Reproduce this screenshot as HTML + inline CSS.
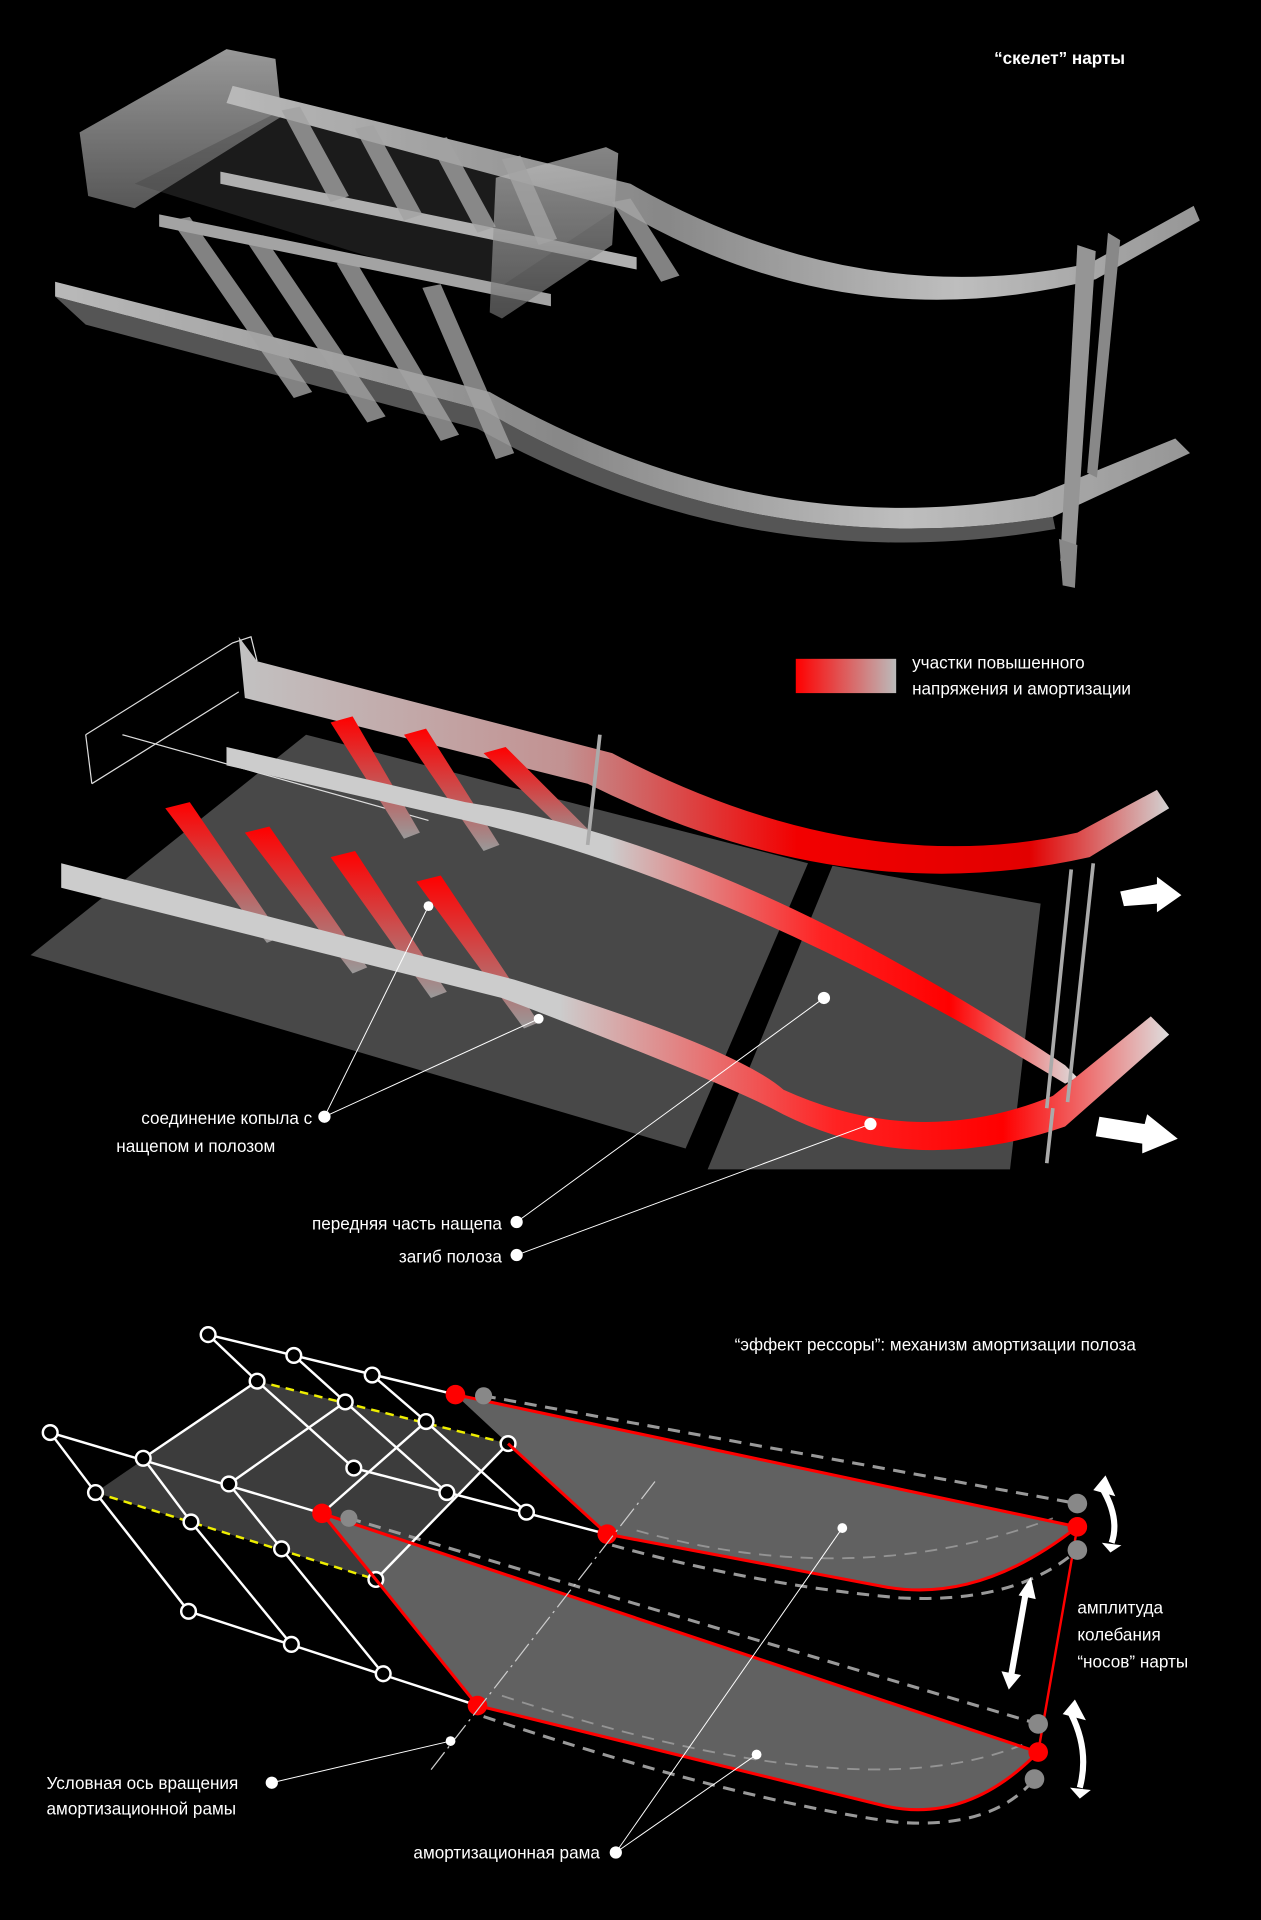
<!DOCTYPE html>
<html><head><meta charset="utf-8"><style>
html,body{margin:0;padding:0;background:#000;}
svg{display:block}
text{font-family:"Liberation Sans",sans-serif;fill:#fff;}
</style></head><body>
<svg width="1261" height="1920" viewBox="0 0 1030 1568" xmlns="http://www.w3.org/2000/svg">
<defs>
<linearGradient id="wg" x1="0" y1="0" x2="1" y2="0">
<stop offset="0" stop-color="#e8e8e8"/><stop offset="0.45" stop-color="#aaa"/><stop offset="0.75" stop-color="#eee"/><stop offset="1" stop-color="#bbb"/></linearGradient>
<linearGradient id="wg2" x1="0" y1="0" x2="0" y2="1">
<stop offset="0" stop-color="#eee"/><stop offset="1" stop-color="#888"/></linearGradient>
<linearGradient id="leg" x1="0" y1="0" x2="1" y2="0">
<stop offset="0" stop-color="#f00"/><stop offset="1" stop-color="#bbb"/></linearGradient>
<linearGradient id="r1" x1="0" y1="0" x2="1" y2="0">
<stop offset="0" stop-color="#ccc"/><stop offset="0.35" stop-color="#c99"/><stop offset="0.6" stop-color="#f00"/><stop offset="0.85" stop-color="#e00"/><stop offset="1" stop-color="#ddd"/></linearGradient>
<linearGradient id="r2" x1="0" y1="0" x2="1" y2="0">
<stop offset="0" stop-color="#ccc"/><stop offset="0.45" stop-color="#ccc"/><stop offset="0.7" stop-color="#f22"/><stop offset="0.85" stop-color="#f00"/><stop offset="1" stop-color="#ddd"/></linearGradient>
<linearGradient id="lr" x1="0" y1="0" x2="0" y2="1">
<stop offset="0" stop-color="#f00"/><stop offset="1" stop-color="#999"/></linearGradient>
</defs>
<rect width="1030" height="1568" fill="#000"/>

<!-- ===== TOP SLED ===== -->
<text x="812" y="52" font-size="14" font-weight="bold">“скелет” нарты</text>
<g opacity="0.8">
<polygon points="65,108 185,40 225,48 230,95 110,170 72,160" fill="url(#wg2)" opacity="0.8"/>
<polygon points="110,150 230,90 520,160 400,240" fill="#555" opacity="0.4"/>
<!-- upper rail -->
<path d="M190,70 L515,150 Q700,255 890,215 L975,168 L980,180 L895,228 Q690,280 505,170 L185,84 Z" fill="url(#wg)"/>
<!-- lower runner -->
<path d="M45,230 L400,320 Q620,445 845,405 L960,358 L972,370 L860,422 Q615,462 395,335 L45,242 Z" fill="url(#wg)"/>
<path d="M45,242 L395,335 Q615,462 860,422 L862,432 Q615,475 390,350 L70,265 Z" fill="#999" opacity="0.7"/>
<path d="M180,140 L520,210 L520,220 L180,150 Z" fill="#ddd"/>
<path d="M130,175 L450,240 L450,250 L130,185 Z" fill="#ccc"/>
<polygon points="405,145 495,120 505,125 500,200 410,260 400,255" fill="url(#wg2)" opacity="0.7"/>
<g fill="#ccc" opacity="0.8">
<polygon points="140,180 155,177 255,320 240,325"/>
<polygon points="200,195 215,192 315,340 300,345"/>
<polygon points="275,215 290,212 375,355 360,360"/>
<polygon points="345,235 360,232 420,370 405,375"/>
<polygon points="230,90 245,87 285,160 270,165"/>
<polygon points="290,105 305,102 345,175 330,180"/>
<polygon points="350,115 365,112 405,185 390,190"/>
<polygon points="410,130 425,127 455,195 440,200"/>
<polygon points="500,165 515,162 555,225 540,230"/>
</g>
<polygon points="880,200 895,205 878,460 866,458" fill="#bbb"/>
<polygon points="905,190 915,196 896,390 888,386" fill="#aaa"/>
<polygon points="865,440 880,445 878,480 868,478" fill="#aaa"/>
</g>

<!-- ===== MIDDLE ===== -->
<polygon points="25,780 250,600 660,705 560,938" fill="#484848"/>
<polygon points="680,707 850,738 825,955 578,955" fill="#484848"/>
<rect x="650" y="538" width="82" height="28" fill="url(#leg)"/>
<text x="745" y="546" font-size="14">участки повышенного</text>
<text x="745" y="567" font-size="14">напряжения и амортизации</text>
<g fill="none" stroke="#ddd" stroke-width="1">
<polyline points="70,600 190,525 205,520 210,540"/>
<polyline points="75,640 195,565"/>
<line x1="70" y1="600" x2="75" y2="640"/>
<line x1="100" y1="600" x2="350" y2="670"/>
</g>
<path d="M195,520 L210,540 L500,615 Q700,720 880,680 L945,645 L955,660 L890,700 Q690,745 480,640 L200,570 Z" fill="url(#r1)" opacity="0.95"/>
<g fill="url(#lr)">
<polygon points="135,660 155,655 230,765 218,770"/>
<polygon points="200,680 220,675 300,790 288,795"/>
<polygon points="270,700 290,695 365,810 352,815"/>
<polygon points="340,720 360,715 440,835 428,840"/>
<polygon points="270,590 288,585 343,680 330,685"/>
<polygon points="330,600 348,595 408,690 395,695"/>
<polygon points="395,615 413,610 483,680 470,688"/>
</g>
<path d="M185,610 L380,655 Q600,690 870,870 L880,880 L870,885 Q600,720 380,670 L185,625 Z" fill="url(#r2)"/>
<path d="M50,705 L420,800 Q600,855 640,890 Q750,940 860,895 L940,830 L955,845 L870,920 Q740,965 630,905 Q580,880 410,815 L50,725 Z" fill="url(#r2)"/>
<g fill="none" stroke="#aaa" stroke-width="3">
<line x1="875" y1="710" x2="855" y2="905"/><line x1="893" y1="705" x2="872" y2="900"/>
<line x1="860" y1="905" x2="855" y2="950"/>
<line x1="490" y1="600" x2="480" y2="690"/>
</g>
<polygon points="915,728 945,722 945,716 965,731 945,745 945,738 918,740" fill="#fff"/>
<polygon points="898,912 935,918 937,910 962,930 933,942 933,934 895,928" fill="#fff"/>
<g stroke="#fff" stroke-width="0.8">
<line x1="265" y1="912" x2="350" y2="740"/><line x1="265" y1="912" x2="440" y2="832"/>
<line x1="422" y1="998" x2="673" y2="815"/><line x1="422" y1="1025" x2="711" y2="918"/>
</g>
<g fill="#fff"><circle cx="265" cy="912" r="5"/><circle cx="422" cy="998" r="5"/><circle cx="422" cy="1025" r="5"/>
<circle cx="673" cy="815" r="5"/><circle cx="711" cy="918" r="5"/><circle cx="350" cy="740" r="4"/><circle cx="440" cy="832" r="4"/></g>
<text x="255" y="918" font-size="14" text-anchor="end">соединение копыла с</text>
<text x="95" y="941" font-size="14">нащепом  и   полозом</text>
<text x="410" y="1004" font-size="14" text-anchor="end">передняя часть нащепа</text>
<text x="410" y="1031" font-size="14" text-anchor="end">загиб полоза</text>

<!-- ===== BOTTOM ===== -->
<text x="600" y="1103" font-size="14">“эффект рессоры”: механизм амортизации полоза</text>
<polygon points="210,1128 415,1179 307,1290 78,1219" fill="#3c3c3c"/>
<path d="M372,1139 L880,1247 Q800,1310 723,1296 L496,1253 L415,1179 Z" fill="#666" opacity="0.95"/>
<path d="M263,1236 L848,1431 Q790,1490 723,1475 L390,1393 L307,1290 Z" fill="#666" opacity="0.95"/>
<g fill="none" stroke="#999" stroke-width="2.5" stroke-dasharray="10,7">
<path d="M395,1140 L880,1228"/><path d="M500,1262 Q620,1295 735,1305 Q830,1310 880,1266"/>
<path d="M285,1240 L848,1408"/><path d="M395,1402 Q600,1470 730,1488 Q810,1495 845,1453"/>
</g>
<g fill="none" stroke="#aaa" stroke-width="1.5" stroke-dasharray="10,7" opacity="0.7">
<path d="M520,1250 Q700,1300 860,1240"/><path d="M410,1385 Q700,1480 835,1425"/>
</g>
<g stroke="#fff" stroke-width="2" fill="none">
<line x1="170" y1="1090" x2="372" y2="1139"/>
<line x1="41" y1="1170" x2="263" y2="1236"/>
<line x1="289" y1="1199" x2="496" y2="1253"/>
<line x1="154" y1="1316" x2="390" y2="1393"/>
<line x1="170" y1="1090" x2="210" y2="1128"/><line x1="240" y1="1107" x2="282" y2="1145"/><line x1="304" y1="1123" x2="348" y2="1161"/>
<line x1="210" y1="1128" x2="289" y2="1199"/><line x1="282" y1="1145" x2="365" y2="1219"/><line x1="348" y1="1161" x2="430" y2="1235"/><line x1="415" y1="1179" x2="496" y2="1253"/>
<line x1="210" y1="1128" x2="117" y2="1191"/><line x1="282" y1="1145" x2="187" y2="1212"/><line x1="348" y1="1161" x2="263" y2="1236"/><line x1="415" y1="1179" x2="307" y2="1290"/>
<line x1="41" y1="1170" x2="78" y2="1219"/><line x1="117" y1="1191" x2="156" y2="1243"/><line x1="187" y1="1212" x2="230" y2="1265"/>
<line x1="78" y1="1219" x2="154" y2="1316"/><line x1="156" y1="1243" x2="238" y2="1343"/><line x1="230" y1="1265" x2="313" y2="1367"/>
</g>
<g stroke="#ee0" stroke-width="2" stroke-dasharray="7,5">
<line x1="210" y1="1128" x2="415" y2="1179"/><line x1="78" y1="1219" x2="307" y2="1290"/>
</g>
<g fill="#000" stroke="#fff" stroke-width="2">
<circle cx="170" cy="1090" r="6"/><circle cx="240" cy="1107" r="6"/><circle cx="304" cy="1123" r="6"/>
<circle cx="210" cy="1128" r="6"/><circle cx="282" cy="1145" r="6"/><circle cx="348" cy="1161" r="6"/><circle cx="415" cy="1179" r="6"/>
<circle cx="41" cy="1170" r="6"/><circle cx="117" cy="1191" r="6"/><circle cx="187" cy="1212" r="6"/>
<circle cx="289" cy="1199" r="6"/><circle cx="365" cy="1219" r="6"/><circle cx="430" cy="1235" r="6"/>
<circle cx="78" cy="1219" r="6"/><circle cx="156" cy="1243" r="6"/><circle cx="230" cy="1265" r="6"/><circle cx="307" cy="1290" r="6"/>
<circle cx="154" cy="1316" r="6"/><circle cx="238" cy="1343" r="6"/><circle cx="313" cy="1367" r="6"/>
</g>
<g fill="none" stroke="#f00" stroke-width="2.5">
<path d="M372,1139 L880,1247 Q800,1310 723,1296 L496,1253 L415,1179"/>
<path d="M263,1236 L848,1431 Q790,1490 723,1475 L390,1393 L307,1290 L263,1236"/>
<line x1="880" y1="1247" x2="848" y2="1431" stroke-width="2"/>
</g>
<g fill="#888"><circle cx="395" cy="1140" r="7"/><circle cx="285" cy="1240" r="7"/>
<circle cx="880" cy="1228" r="8"/><circle cx="880" cy="1266" r="8"/><circle cx="848" cy="1408" r="8"/><circle cx="845" cy="1453" r="8"/></g>
<g fill="#f00"><circle cx="372" cy="1139" r="8"/><circle cx="263" cy="1236" r="8"/><circle cx="496" cy="1253" r="8"/><circle cx="390" cy="1393" r="8"/>
<circle cx="880" cy="1247" r="8"/><circle cx="848" cy="1431" r="8"/></g>
<g fill="none" stroke="#fff" stroke-width="5">
<path d="M900,1215 Q915,1240 908,1260"/><path d="M875,1400 Q890,1430 882,1460"/>
<line x1="838" y1="1300" x2="826" y2="1368"/>
</g>
<g fill="#fff">
<polygon points="893,1217 903,1205 911,1222"/><polygon points="900,1260 916,1262 907,1268"/>
<polygon points="868,1400 878,1388 887,1405"/><polygon points="874,1460 891,1462 882,1469"/>
<polygon points="832,1303 842,1288 846,1306"/><polygon points="818,1365 834,1368 824,1380"/>
</g>
<line x1="535" y1="1210" x2="350" y2="1448" stroke="#ccc" stroke-width="1" stroke-dasharray="18,4,2,4"/>
<text x="880" y="1318" font-size="14">амплитуда</text>
<text x="880" y="1340" font-size="14">колебания</text>
<text x="880" y="1362" font-size="14">“носов” нарты</text>
<g stroke="#fff" stroke-width="0.8">
<line x1="222" y1="1456" x2="368" y2="1422"/><line x1="503" y1="1513" x2="688" y2="1248"/><line x1="503" y1="1513" x2="618" y2="1433"/>
</g>
<g fill="#fff"><circle cx="222" cy="1456" r="5"/><circle cx="368" cy="1422" r="4"/><circle cx="503" cy="1513" r="5"/><circle cx="688" cy="1248" r="4"/><circle cx="618" cy="1433" r="4"/></g>
<text x="38" y="1461" font-size="14">Условная ось вращения</text>
<text x="38" y="1482" font-size="14">амортизационной рамы</text>
<text x="490" y="1518" font-size="14" text-anchor="end">амортизационная рама</text>
</svg>
</body></html>
